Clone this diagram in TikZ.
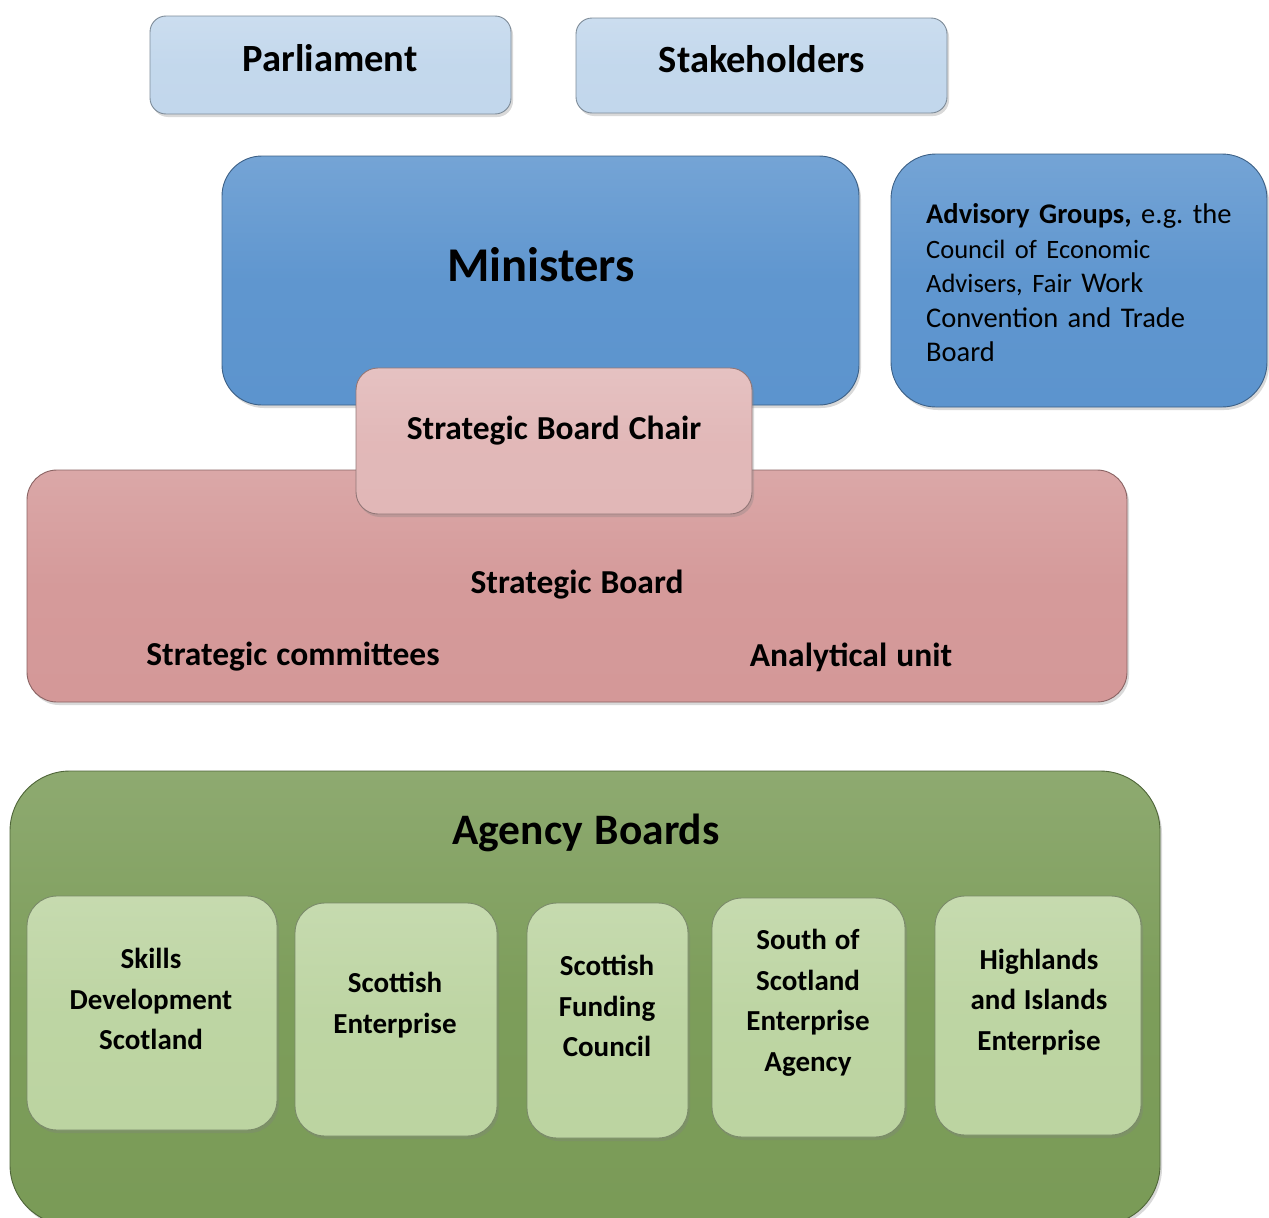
\documentclass[tikz,border=0pt]{standalone}
\usepackage{fontspec}
\setmainfont{Carlito}[WordSpace=1.2]
\frenchspacing
\usetikzlibrary{shadows}
\definecolor{parlC}{HTML}{C2D7EC}
\definecolor{minC}{HTML}{5C94CE}
\definecolor{chairC}{HTML}{E1B7B7}
\definecolor{boardC}{HTML}{D49898}
\definecolor{agC}{HTML}{7A9B57}
\definecolor{innC}{HTML}{BCD4A1}
\tikzset{
  rbox/.style={draw=#1!65!black, line width=0.9pt, top color=#1!85!white, bottom color=#1, middle color=#1!98!white,
    drop shadow={opacity=0.3, shadow xshift=2pt, shadow yshift=-3pt}, inner sep=0pt},
  lbl/.style={inner sep=0pt, align=center, font=\bfseries},
}
\begin{document}
\begin{tikzpicture}[x=1pt,y=-1pt]
\useasboundingbox (0,0) rectangle (1269,1218);
\clip (0,0) rectangle (1269,1218);
% top
\node[rbox=parlC, rounded corners=16pt, minimum width=361pt, minimum height=98pt] (parl) at (330.5,65) {};
\node[lbl, font=\bfseries\fontsize{38.5}{40}\selectfont] (parlT) at (330,58) {Parliament};
\node[rbox=parlC, rounded corners=16pt, minimum width=371pt, minimum height=95pt] (stake) at (761.5,65.5) {};
\node[lbl, font=\bfseries\fontsize{38.5}{40}\selectfont] (stakeT) at (762,59) {Stakeholders};
% ministers
\node[rbox=minC, rounded corners=40pt, minimum width=637pt, minimum height=249pt] (min) at (540.5,280.5) {};
\node[lbl, font=\bfseries\fontsize{48.5}{50}\selectfont] (minT) at (541,265) {Ministers};
\node[rbox=minC, rounded corners=45pt, minimum width=376pt, minimum height=253pt] (adv) at (1079,280.5) {};
\node[inner sep=0pt, align=left, text width=335pt, anchor=west, font=\fontsize{28.5}{34.5}\selectfont] (advT) at (926,283)
 {\textbf{Advisory Groups,} e.g. the\\
  {\fontsize{26.5}{34.5}\selectfont Council of Economic}\\
  {\fontsize{26.5}{34.5}\selectfont Advisers, Fair} Work\\
  Convention and Trade\\
  Board};
% strategic board
\node[rbox=boardC, rounded corners=30pt, minimum width=1100pt, minimum height=232pt] (board) at (577,586) {};
\node[lbl, font=\bfseries\fontsize{33.5}{36}\selectfont] (boardT) at (577,585) {Strategic Board};
\node[lbl, font=\bfseries\fontsize{33.5}{36}\selectfont] (comm) at (293,657) {Strategic committees};
\node[lbl, font=\bfseries\fontsize{33.5}{36}\selectfont] (anal) at (851,657) {Analytical unit};
\node[rbox=chairC, rounded corners=22pt, minimum width=396pt, minimum height=146pt] (chair) at (554,441) {};
\node[lbl, font=\bfseries\fontsize{33.5}{36}\selectfont] (chairT) at (554,431) {Strategic Board Chair};
% agency boards
\node[rbox=agC, rounded corners=60pt, minimum width=1150pt, minimum height=454pt] (agency) at (585,998) {};
\node[lbl, font=\bfseries\fontsize{43.5}{46}\selectfont] (agencyT) at (586,833) {Agency Boards};
\tikzset{inb/.style={rbox=innC, rounded corners=30pt}, inl/.style={lbl, font=\bfseries\fontsize{29}{40.5}\selectfont}}
\node[inb, minimum width=250pt, minimum height=234pt] (sds) at (152,1013) {};
\node[inl] (sdsT) at (151,999) {Skills\\Development\\Scotland};
\node[inb, minimum width=202pt, minimum height=233pt] (se) at (396,1019.5) {};
\node[inl] (seT) at (395,1005) {Scottish\\Enterprise};
\node[inb, minimum width=161pt, minimum height=235pt] (sfc) at (607.5,1020.5) {};
\node[inl] (sfcT) at (607,1006) {Scottish\\Funding\\Council};
\node[inb, minimum width=193pt, minimum height=239pt] (sose) at (808.5,1017.5) {};
\node[inl] (soseT) at (808,1003) {South of\\Scotland\\Enterprise\\Agency};
\node[inb, minimum width=206pt, minimum height=239pt] (hie) at (1038,1015.5) {};
\node[inl] (hieT) at (1039,1002) {Highlands\\and Islands\\Enterprise};
\end{tikzpicture}
\end{document}
